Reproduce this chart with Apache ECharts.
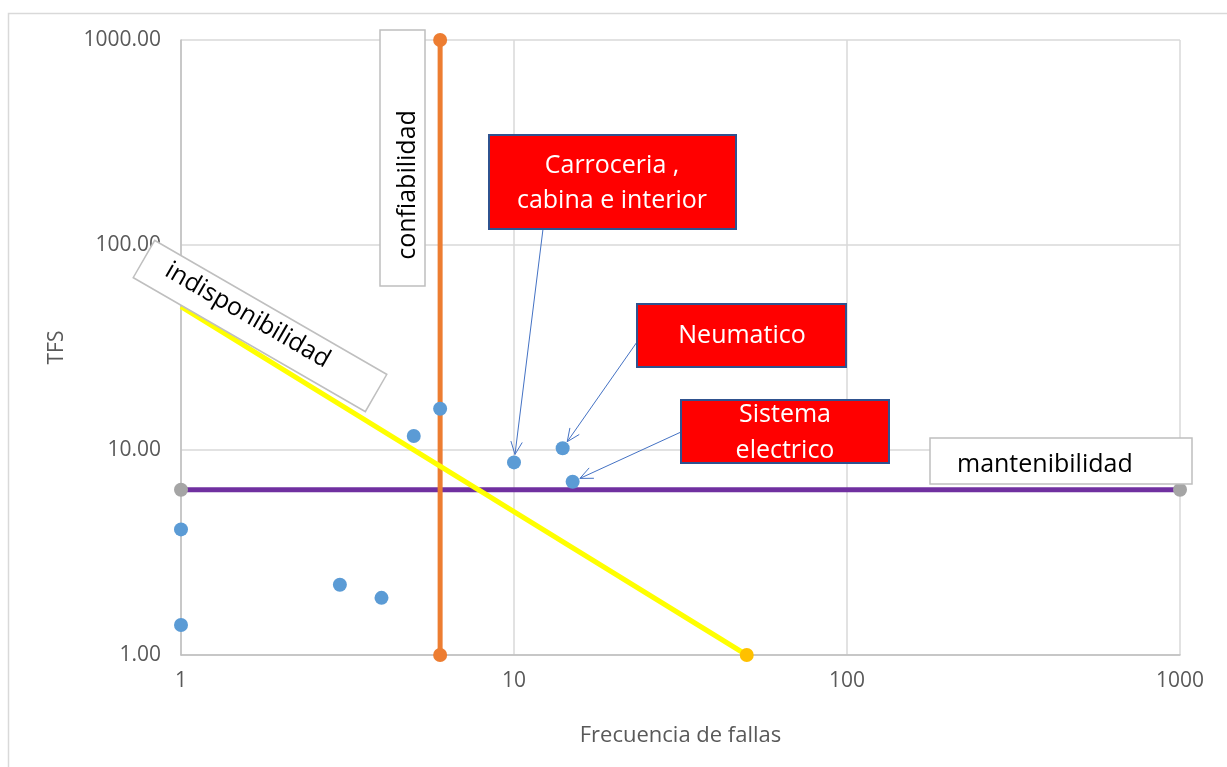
<!DOCTYPE html>
<html>
<head>
<meta charset="utf-8">
<script src="https://cdn.jsdelivr.net/npm/echarts@6/dist/echarts.min.js"></script>
<style>
  html, body { margin: 0; padding: 0; background: #fff; }
  #chart { width: 1227px; height: 767px; }
</style>
</head>
<body>
<div id="chart"></div>
<script>
// puntos de los sistemas (frecuencia de fallas, TFS)
const xFallas = [1, 1, 3, 4, 5, 6, 10, 14, 15];
const yTfs = [1.4, 4.1, 2.2, 1.9, 11.7, 15.9, 8.7, 10.2, 7.0];

// lineas limite
const mantX = [1, 1000];
const mantY = [6.4, 6.4];
const confX = [6, 6];
const confY = [1, 1000];
const indispX = [1, 50];
const indispY = [50, 1];

// etiquetas con flecha -> indice del punto
const calloutNames = ['Carroceria ,\ncabina e interior', 'Neumatico', 'Sistema\nelectrico'];
const calloutTarget = [6, 7, 8];

const font = 'Open Sans';
const boxFont = '25px "' + font + '"';
const pairs = (xs, ys) => xs.map((x, i) => [x, ys[i]]);

let mychart = echarts.init(document.getElementById('chart'));

function boxes() {
  return [
    { type: 'rect', left: 6, top: 11, shape: { width: 1240, height: 800 },
      style: { fill: 'none', stroke: '#d9d9d9', lineWidth: 1.5 }, z: 0, silent: true },
    // confiabilidad
    { type: 'rect', shape: { x: 380, y: 30, width: 45, height: 256 },
      style: { fill: '#fff', stroke: '#bfbfbf', lineWidth: 1.5 }, z: 100 },
    { type: 'text', x: 408, y: 185, rotation: Math.PI / 2,
      style: { text: 'confiabilidad', font: boxFont, fill: '#000', align: 'center', verticalAlign: 'middle' }, z: 101 },
    // indisponibilidad
    { type: 'group', x: 260, y: 326, rotation: -Math.PI / 6, z: 100, children: [
      { type: 'rect', shape: { x: -134, y: -21.5, width: 268, height: 43 },
        style: { fill: '#fff', stroke: '#bfbfbf', lineWidth: 1.5 }, z: 100 },
      { type: 'text', x: -16, y: -3,
        style: { text: 'indisponibilidad', font: boxFont, fill: '#000', align: 'center', verticalAlign: 'middle' }, z: 101 }
    ]},
    // mantenibilidad
    { type: 'rect', shape: { x: 930, y: 438, width: 262, height: 46 },
      style: { fill: '#fff', stroke: '#bfbfbf', lineWidth: 1.5 }, z: 100 },
    { type: 'text', x: 957, y: 465,
      style: { text: 'mantenibilidad', font: boxFont, fill: '#000', align: 'left', verticalAlign: 'middle' }, z: 101 },
    // cajas rojas
    { type: 'rect', shape: { x: 489, y: 135, width: 247, height: 94 },
      style: { fill: '#ff0000', stroke: '#2f528f', lineWidth: 2 }, z: 100 },
    { type: 'text', x: 612, y: 183,
      style: { text: calloutNames[0], font: boxFont, fill: '#fff', align: 'center', verticalAlign: 'middle', lineHeight: 35 }, z: 101 },
    { type: 'rect', shape: { x: 637, y: 304, width: 209, height: 63 },
      style: { fill: '#ff0000', stroke: '#2f528f', lineWidth: 2 }, z: 100 },
    { type: 'text', x: 742, y: 336,
      style: { text: calloutNames[1], font: boxFont, fill: '#fff', align: 'center', verticalAlign: 'middle' }, z: 101 },
    { type: 'rect', shape: { x: 681, y: 400, width: 208, height: 63 },
      style: { fill: '#ff0000', stroke: '#2f528f', lineWidth: 2 }, z: 100 },
    { type: 'text', x: 785, y: 433,
      style: { text: calloutNames[2], font: boxFont, fill: '#fff', align: 'center', verticalAlign: 'middle', lineHeight: 36 }, z: 101 }
  ];
}

let option = {
  animation: false,
  backgroundColor: '#fff',
  grid: { left: 181, right: 47, top: 40, bottom: 112 },
  xAxis: {
    type: 'log', logBase: 10, min: 1, max: 1000,
    name: 'Frecuencia de fallas', nameLocation: 'middle', nameGap: 70,
    nameTextStyle: { color: '#595959', fontSize: 22, fontFamily: font },
    axisLabel: { color: '#595959', fontSize: 21, fontFamily: font, margin: 16,
      formatter: v => String(Math.round(v)) },
    axisTick: { show: false },
    axisLine: { lineStyle: { color: '#bfbfbf', width: 1.5 } },
    splitLine: { show: true, lineStyle: { color: '#d9d9d9', width: 1.5 } },
    minorTick: { show: false }
  },
  yAxis: {
    type: 'log', logBase: 10, min: 1, max: 1000,
    name: 'TFS', nameLocation: 'middle', nameGap: 113,
    nameTextStyle: { color: '#595959', fontSize: 21, fontFamily: font },
    axisLabel: { color: '#595959', fontSize: 21, fontFamily: font, margin: 20,
      formatter: v => Number(v).toFixed(2) },
    axisTick: { show: false },
    axisLine: { show: true, lineStyle: { color: '#bfbfbf', width: 1.5 } },
    splitLine: { show: true, lineStyle: { color: '#d9d9d9', width: 1.5 } }
  },
  series: [
    { name: 'mantenibilidad', type: 'line', data: pairs(mantX, mantY),
      lineStyle: { color: '#7030a0', width: 5 }, symbol: 'circle', symbolSize: 14,
      itemStyle: { color: '#a5a5a5' }, z: 2 },
    { name: 'confiabilidad', type: 'line', data: pairs(confX, confY),
      lineStyle: { color: '#ed7d31', width: 5 }, symbol: 'circle', symbolSize: 14,
      itemStyle: { color: '#ed7d31' }, z: 3 },
    { name: 'indisponibilidad', type: 'line', data: pairs(indispX, indispY),
      lineStyle: { color: '#ffff00', width: 5 }, symbol: 'circle',
      symbolSize: (v, p) => (p.dataIndex === 0 ? 0 : 14),
      itemStyle: { color: '#ffc000' }, z: 4 },
    { name: 'sistemas', type: 'scatter', data: pairs(xFallas, yTfs),
      symbol: 'circle', symbolSize: 14, itemStyle: { color: '#5b9bd5', opacity: 1 }, z: 5 }
  ],
  graphic: boxes()
};

mychart.setOption(option);

// flechas desde las cajas hasta los puntos
const arrowStart = [[543, 229], [637, 342], [681, 432]];
let arrows = [];
calloutTarget.forEach(function (idx, i) {
  let p = mychart.convertToPixel({ gridIndex: 0 }, [xFallas[idx], yTfs[idx]]);
  let s = arrowStart[i];
  let dx = s[0] - p[0], dy = s[1] - p[1];
  let len = Math.sqrt(dx * dx + dy * dy);
  let ux = dx / len, uy = dy / len;
  let tip = [p[0] + ux * 8, p[1] + uy * 8];
  let a = Math.atan2(uy, ux);
  let h = 14, spread = 0.42;
  arrows.push({ type: 'line', shape: { x1: s[0], y1: s[1], x2: tip[0], y2: tip[1] },
    style: { stroke: '#4472c4', lineWidth: 1 }, z: 90 });
  arrows.push({ type: 'polyline', shape: { points: [
      [tip[0] + h * Math.cos(a + spread), tip[1] + h * Math.sin(a + spread)],
      tip,
      [tip[0] + h * Math.cos(a - spread), tip[1] + h * Math.sin(a - spread)]
    ] },
    style: { stroke: '#4472c4', lineWidth: 1, fill: 'none' }, z: 90 });
});
mychart.setOption({ graphic: boxes().concat(arrows) }, { replaceMerge: ['graphic'] });

window.addEventListener('resize', function () {
  mychart.resize();
});
</script>
</body>
</html>
